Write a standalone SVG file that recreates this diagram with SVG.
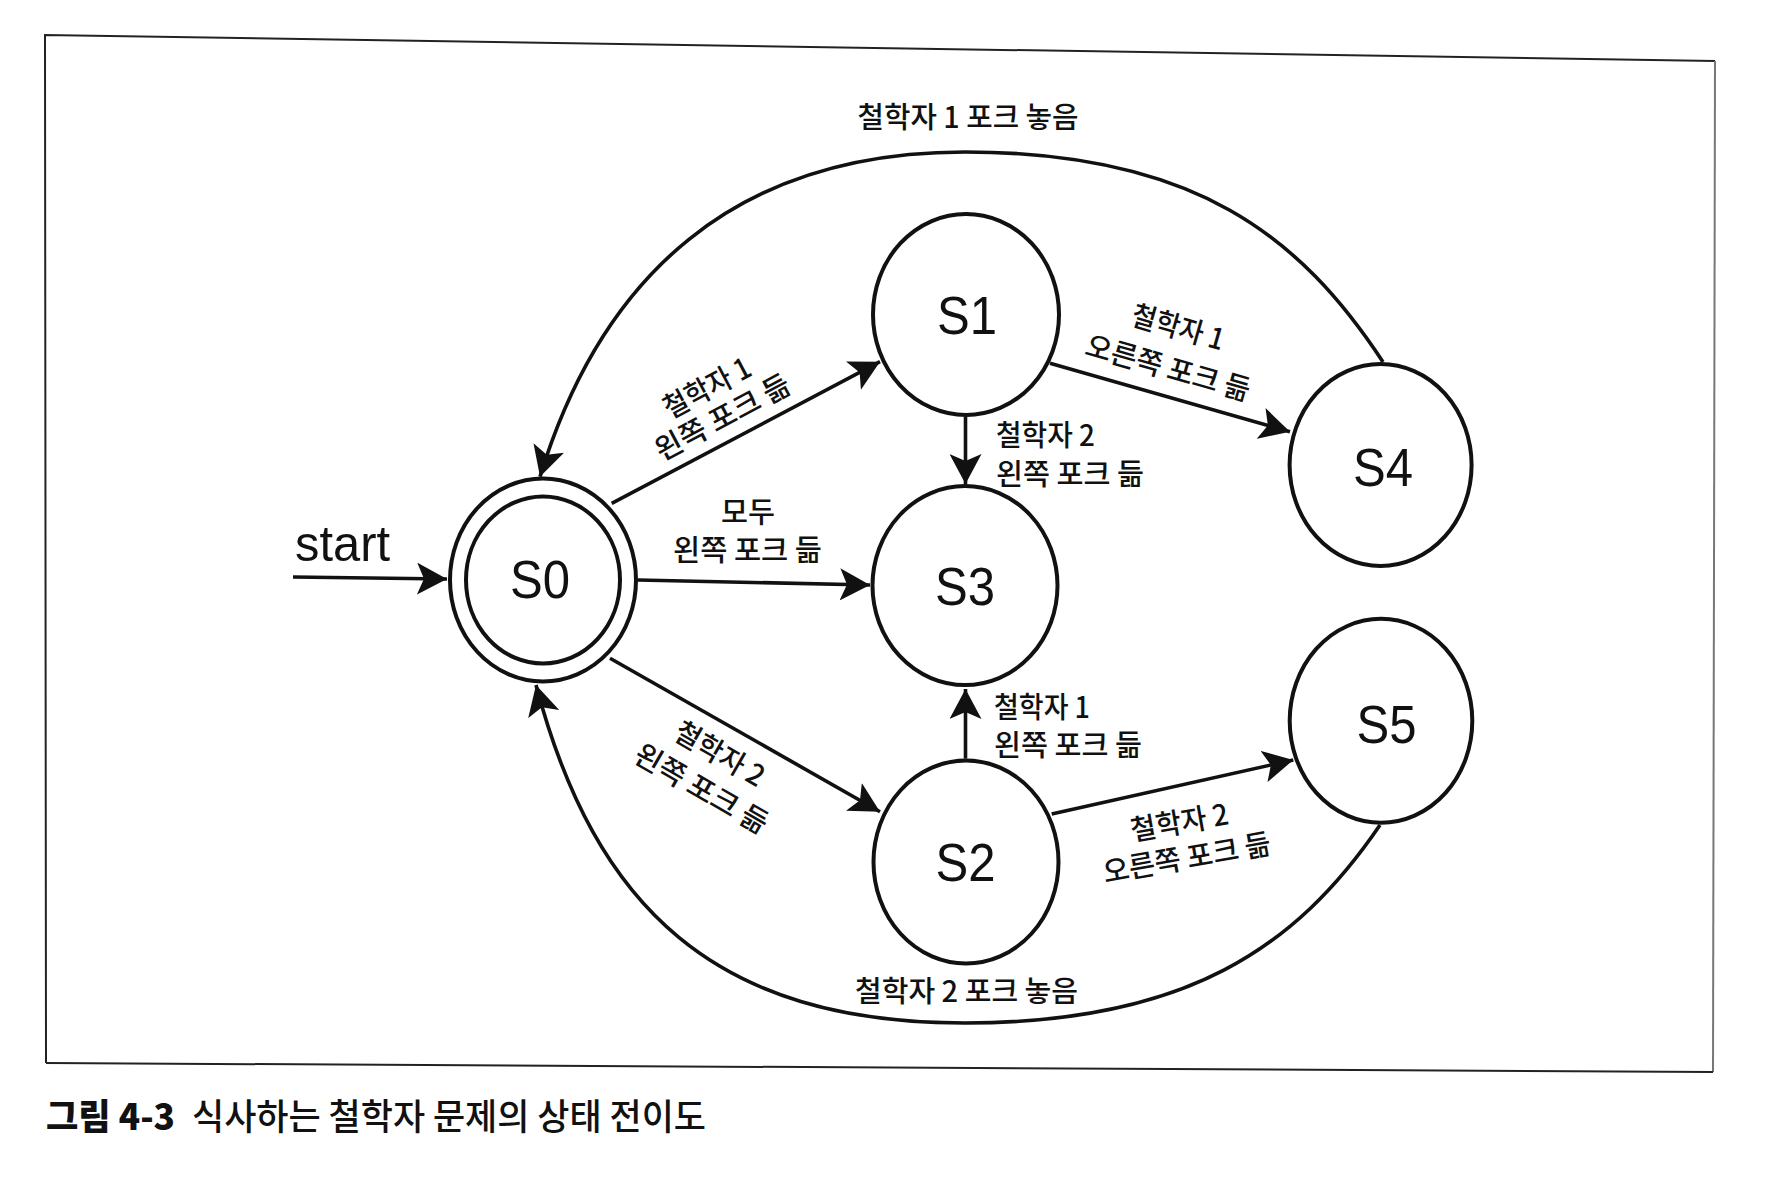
<svg xmlns="http://www.w3.org/2000/svg" width="1766" height="1189" viewBox="0 0 1766 1189">
<defs>
<style>
.node{fill:#fff;stroke:#111;stroke-width:4}
.conn{fill:none;stroke:#111;stroke-width:3.6;marker-end:url(#arrow)}
.st{font-family:"Liberation Sans",Arial,sans-serif;font-size:54px;fill:#111;text-anchor:middle}
.lb{font-family:"Noto Sans CJK KR","Noto Sans",sans-serif;font-size:29px;font-weight:500;fill:#111}
.mid{text-anchor:middle}
.cap{font-family:"Noto Sans CJK KR","Noto Sans",sans-serif;font-size:36px;font-weight:500;fill:#111}
.capb{font-weight:900}
</style>
<marker id="arrow" viewBox="0 0 30 32" refX="30" refY="16" markerWidth="30" markerHeight="32" markerUnits="userSpaceOnUse" orient="auto">
<path d="M0,0 L30,16 L0,32 L7,16 Z" fill="#111"/>
</marker>
</defs>
<rect width="1766" height="1189" fill="#fff"/>
<g id="frame" fill="none" stroke-width="2">
<path d="M46,1063 L45,35 L1715,61" stroke="#222"/>
<path d="M1715,61 L1713,1072" stroke="#777"/>
<path d="M46,1063 L1713,1072" stroke="#222"/>
</g>
<g id="connectors">
<path class="conn" d="M293,577 L447,579"/>
<path class="conn" d="M611.7,503.3 L880,361.7"/>
<path class="conn" d="M638,580 L870,585"/>
<path class="conn" d="M610,658.3 L880,811.7"/>
<path class="conn" d="M965.5,417 L965.5,484"/>
<path class="conn" d="M1050,363.3 L1290,431.7"/>
<path class="conn" d="M965.5,758.6 L965.5,689"/>
<path class="conn" d="M1051.7,814 L1293.3,760"/>
<path class="conn" d="M1383,362 C1300.6,236.6 1195,152 965,152 C735,152 601.5,275.9 540,476.7"/>
<path class="conn" d="M1380,825 C1295.6,948.9 1185,1023 965,1023 C715,1023 594.9,907.4 536,685"/>
</g>
<g id="S0">
<ellipse class="node" cx="543" cy="580" rx="93" ry="101.5"/>
<ellipse class="node" cx="543" cy="580" rx="77" ry="83.5"/>
<text class="st" x="540" y="598" textLength="60" lengthAdjust="spacingAndGlyphs">S0</text>
</g>
<g id="S1">
<ellipse class="node" cx="966" cy="314.5" rx="93" ry="100.5"/>
<text class="st" x="967" y="334" textLength="60" lengthAdjust="spacingAndGlyphs">S1</text>
</g>
<g id="S3">
<ellipse class="node" cx="965" cy="585.6" rx="92.5" ry="99.5"/>
<text class="st" x="965" y="605" textLength="60" lengthAdjust="spacingAndGlyphs">S3</text>
</g>
<g id="S4">
<ellipse class="node" cx="1380.6" cy="465" rx="91" ry="101"/>
<text class="st" x="1383" y="486" textLength="60" lengthAdjust="spacingAndGlyphs">S4</text>
</g>
<g id="S2">
<ellipse class="node" cx="966" cy="862" rx="92.5" ry="101.5"/>
<text class="st" x="965.5" y="881" textLength="60" lengthAdjust="spacingAndGlyphs">S2</text>
</g>
<g id="S5">
<ellipse class="node" cx="1381" cy="720.8" rx="91.3" ry="102"/>
<text class="st" x="1386.5" y="743" textLength="60" lengthAdjust="spacingAndGlyphs">S5</text>
</g>
<g id="start-label">
<text x="295" y="561" font-family="Liberation Sans, Arial, sans-serif" font-size="50" fill="#111" textLength="95" lengthAdjust="spacingAndGlyphs">start</text>
</g>
<g id="edge-labels" class="lb">
<text class="lb mid" x="968" y="127.5" textLength="221" lengthAdjust="spacingAndGlyphs">철학자 1 포크 놓음</text>
<text class="lb mid" x="966.5" y="1001.5" textLength="223" lengthAdjust="spacingAndGlyphs">철학자 2 포크 놓음</text>
<text class="lb mid" x="748" y="522.5" textLength="54" lengthAdjust="spacingAndGlyphs">모두</text>
<text class="lb mid" x="747.5" y="560.5" textLength="149" lengthAdjust="spacingAndGlyphs">왼쪽 포크 듦</text>
<text class="lb" x="996" y="446" textLength="99" lengthAdjust="spacingAndGlyphs">철학자 2</text>
<text class="lb" x="996" y="485" textLength="148" lengthAdjust="spacingAndGlyphs">왼쪽 포크 듦</text>
<text class="lb" x="994" y="717.5" textLength="96" lengthAdjust="spacingAndGlyphs">철학자 1</text>
<text class="lb" x="994" y="756" textLength="148" lengthAdjust="spacingAndGlyphs">왼쪽 포크 듦</text>
<text class="lb mid" x="706.7" y="398.3" transform="rotate(-28 706.7 387.3)" textLength="95" lengthAdjust="spacingAndGlyphs">철학자 1</text>
<text class="lb mid" x="722.3" y="427.7" transform="rotate(-28 722.3 416.7)" textLength="149" lengthAdjust="spacingAndGlyphs">왼쪽 포크 듦</text>
<text class="lb mid" x="720" y="764.3" transform="rotate(30 720 753.3)" textLength="99" lengthAdjust="spacingAndGlyphs">철학자 2</text>
<text class="lb mid" x="701.7" y="799.3" transform="rotate(30 701.7 788.3)" textLength="149" lengthAdjust="spacingAndGlyphs">왼쪽 포크 듦</text>
<text class="lb mid" x="1178.3" y="337.7" transform="rotate(16 1178.3 326.7)" textLength="95" lengthAdjust="spacingAndGlyphs">철학자 1</text>
<text class="lb mid" x="1168.3" y="378.3" transform="rotate(16 1168.3 367.3)" textLength="170" lengthAdjust="spacingAndGlyphs">오른쪽 포크 듦</text>
<text class="lb mid" x="1179.3" y="832.7" transform="rotate(-10 1179.3 821.7)" textLength="99" lengthAdjust="spacingAndGlyphs">철학자 2</text>
<text class="lb mid" x="1186.7" y="868.3" transform="rotate(-10 1186.7 857.3)" textLength="170" lengthAdjust="spacingAndGlyphs">오른쪽 포크 듦</text>
</g>
<g id="caption">
<text class="cap capb" x="46" y="1130" textLength="129" lengthAdjust="spacingAndGlyphs">그림 4-3</text>
<text class="cap" x="192" y="1130" textLength="514" lengthAdjust="spacingAndGlyphs">식사하는 철학자 문제의 상태 전이도</text>
</g>
</svg>
